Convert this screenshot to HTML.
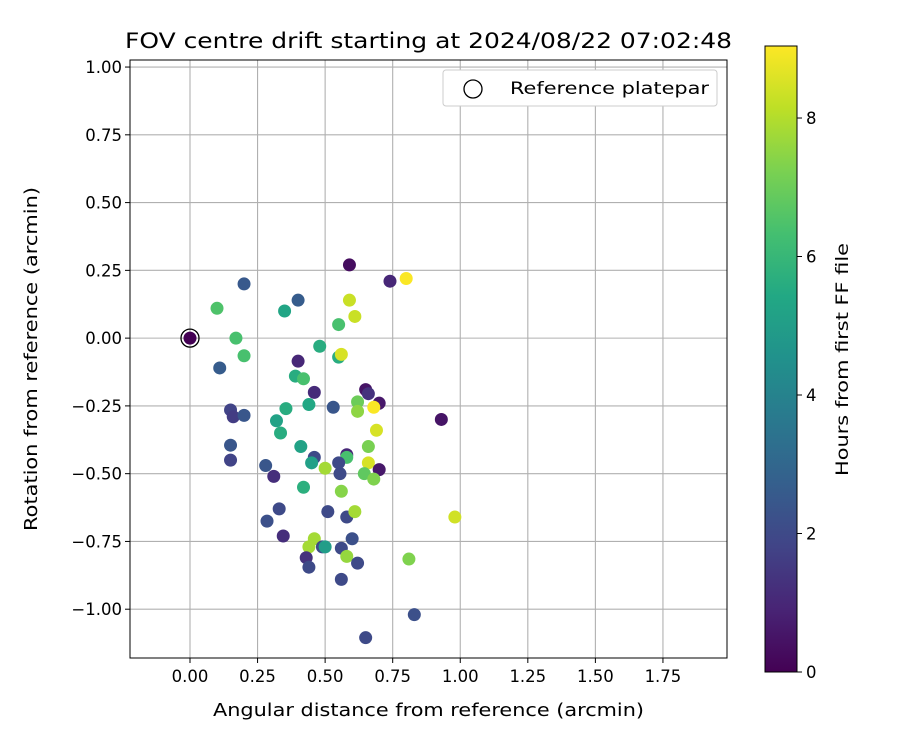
<!DOCTYPE html>
<html><head><meta charset="utf-8"><style>
body{margin:0;background:#fff;font-family:"Liberation Sans","DejaVu Sans",sans-serif}
svg text{font-family:"DejaVu Sans","Liberation Sans",sans-serif;fill:#000}
</style></head><body>
<svg id="chart" width="900" height="750" xmlns="http://www.w3.org/2000/svg">
<defs><linearGradient id="vir" x1="0" y1="1" x2="0" y2="0">
<stop offset="0" stop-color="#440154"/><stop offset="0.1" stop-color="#482475"/><stop offset="0.2" stop-color="#414487"/><stop offset="0.3" stop-color="#355f8d"/><stop offset="0.4" stop-color="#2a788e"/><stop offset="0.5" stop-color="#21918c"/><stop offset="0.6" stop-color="#22a884"/><stop offset="0.7" stop-color="#44bf70"/><stop offset="0.8" stop-color="#7ad151"/><stop offset="0.9" stop-color="#bddf26"/><stop offset="1" stop-color="#fde725"/>
</linearGradient></defs>
<g id="grid"></g>
<g id="ticks"></g>
<g id="pts"></g>
<rect x="130" y="60" width="597" height="598" fill="none" stroke="#000" stroke-width="1"/>
<text x="125" y="48" font-size="21" textLength="607" lengthAdjust="spacingAndGlyphs">FOV centre drift starting at 2024/08/22 07:02:48</text>
<text x="213" y="716" font-size="17.5" textLength="431" lengthAdjust="spacingAndGlyphs">Angular distance from reference (arcmin)</text>
<text transform="translate(37,531) rotate(-90)" font-size="17.5" textLength="344" lengthAdjust="spacingAndGlyphs">Rotation from reference (arcmin)</text>
<g>
<rect x="443" y="70" width="274" height="36" rx="3" fill="#fff" stroke="#ccc"/>
<circle cx="473" cy="89" r="9" fill="none" stroke="#000" stroke-width="1.3"/>
<text x="510" y="94" font-size="17" textLength="199" lengthAdjust="spacingAndGlyphs">Reference platepar</text>
</g>
<g>
<rect x="765" y="46" width="32" height="626" fill="url(#vir)" stroke="#000" stroke-width="1"/>
<g id="cbticks"></g>
<text transform="translate(848,476) rotate(-90)" font-size="17" textLength="233" lengthAdjust="spacingAndGlyphs">Hours from first FF file</text>
</g>
</svg>
<script>
const xTicks=[0,0.25,0.5,0.75,1.0,1.25,1.5,1.75];
const yTicks=[1.0,0.75,0.5,0.25,0,-0.25,-0.5,-0.75,-1.0];
const cTicks=[0,2,4,6,8];
const xs=[0,0.59,0.74,0.80,0.20,0.10,0.40,0.35,0.59,0.61,0.55,0.17,0.20,0.11,0.40,0.48,0.55,0.56,0.39,0.42,0.46,0.65,0.66,0.15,0.16,0.20,0.355,0.44,0.53,0.62,0.62,0.70,0.68,0.93,0.32,0.335,0.69,0.15,0.15,0.41,0.58,0.58,0.46,0.45,0.66,0.66,0.70,0.28,0.31,0.55,0.555,0.50,0.645,0.68,0.42,0.56,0.51,0.58,0.61,0.98,0.285,0.33,0.345,0.46,0.44,0.49,0.50,0.56,0.60,0.58,0.43,0.44,0.62,0.81,0.56,0.83,0.65];
const ys=[0,0.27,0.21,0.22,0.20,0.11,0.14,0.10,0.14,0.08,0.05,0.00,-0.065,-0.11,-0.085,-0.03,-0.07,-0.06,-0.14,-0.15,-0.20,-0.19,-0.205,-0.265,-0.29,-0.285,-0.26,-0.245,-0.255,-0.235,-0.27,-0.24,-0.255,-0.30,-0.305,-0.35,-0.34,-0.395,-0.45,-0.40,-0.43,-0.44,-0.44,-0.46,-0.40,-0.46,-0.485,-0.47,-0.51,-0.46,-0.50,-0.48,-0.50,-0.52,-0.55,-0.565,-0.64,-0.66,-0.64,-0.66,-0.675,-0.63,-0.73,-0.74,-0.77,-0.77,-0.77,-0.775,-0.74,-0.805,-0.81,-0.845,-0.83,-0.815,-0.89,-1.02,-1.105];
const hours=[0,0.3,1.0,9.0,2.5,6.5,2.6,5.3,8.3,8.3,6.4,6.4,6.4,2.6,1.0,5.6,5.6,8.5,5.6,6.4,1.1,0.5,1.3,1.8,1.6,2.4,5.6,5.4,2.4,7.0,7.5,0.6,9.0,0.5,5.2,5.6,8.5,2.4,1.8,5.2,1.0,6.4,2.0,5.1,7.2,8.5,0.6,2.4,1.2,2.0,2.0,7.8,6.8,7.3,5.7,7.4,2.0,2.0,7.8,8.4,2.2,2.0,1.2,7.8,7.8,2.0,5.0,2.0,2.2,7.6,1.3,2.0,2.0,7.3,2.0,2.2,2.0];
const NS="http://www.w3.org/2000/svg";
const X0=130,X1=727,Y0=60,Y1=658,xmin=-0.222,xmax=1.987,ymin=-1.18,ymax=1.026,hmax=9.04;
const sx=v=>X0+(v-xmin)/(xmax-xmin)*(X1-X0);
const sy=v=>Y1-(v-ymin)/(ymax-ymin)*(Y1-Y0);
const sc=v=>672-v/hmax*626;
const vir=[[68,1,84],[72,36,117],[65,68,135],[53,95,141],[42,120,142],[33,145,140],[34,168,132],[68,191,112],[122,209,81],[189,223,38],[253,231,37]];
function color(h){let t=Math.max(0,Math.min(1,h/hmax))*10;let i=Math.min(9,Math.floor(t)),f=t-i;const a=vir[i],b=vir[i+1];return `rgb(${a.map((v,k)=>Math.round(v+(b[k]-v)*f)).join(',')})`;}
function mk(tag,at,parent){const e=document.createElementNS(NS,tag);for(const k in at)e.setAttribute(k,at[k]);parent.appendChild(e);return e;}
const grid=document.getElementById('grid'),ticks=document.getElementById('ticks');
xTicks.forEach(v=>{const x=sx(v);
 const l=mk('line',{x1:x,x2:x,y1:Y0,y2:Y1,stroke:'#b0b0b0','stroke-width':1.1},grid);
 
 
 mk('line',{x1:x,x2:x,y1:Y1,y2:Y1+5,stroke:'#000'},ticks);
 const t=mk('text',{x:x,y:Y1+24,'font-size':16.5,'text-anchor':'middle'},ticks);t.textContent=v.toFixed(2);
 
 });
yTicks.forEach(v=>{const y=sy(v);
 const l=mk('line',{x1:X0,x2:X1,y1:y,y2:y,stroke:'#b0b0b0','stroke-width':1.1},grid);
 
 
 mk('line',{x1:X0-5,x2:X0,y1:y,y2:y,stroke:'#000'},ticks);
 const t=mk('text',{x:X0-8,y:y+6,'font-size':16.5,'text-anchor':'end'},ticks);t.textContent=(v<0?'\u2212':'')+Math.abs(v).toFixed(2);
 
 });
const pts=document.getElementById('pts');
xs.forEach((v,i)=>{const c=mk('circle',{cx:sx(v),cy:sy(ys[i]),r:6.5,fill:color(hours[i])},pts);
 
 });
const ref=mk('circle',{cx:sx(0),cy:sy(0),r:9,fill:'none',stroke:'#000','stroke-width':1.3},pts);


const cb=document.getElementById('cbticks');
cTicks.forEach(v=>{const y=sc(v);mk('line',{x1:797,x2:802,y1:y,y2:y,stroke:'#000'},cb);
 const t=mk('text',{x:806,y:y+6,'font-size':16.5},cb);t.textContent=v;
 
 });
</script>
</body></html>
